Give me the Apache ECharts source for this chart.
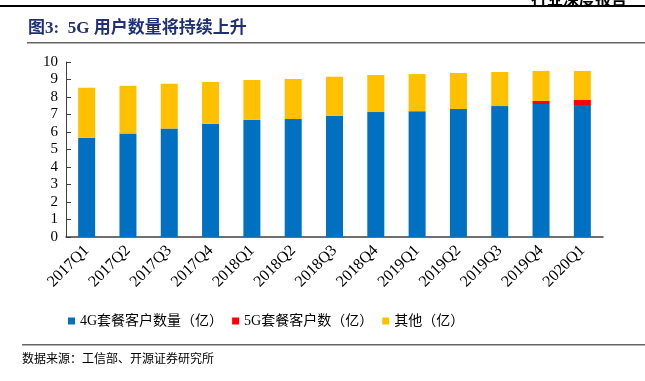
<!DOCTYPE html>
<html><head><meta charset="utf-8">
<script src="https://cdn.jsdelivr.net/npm/echarts@6/dist/echarts.min.js"></script>
<style>html,body{margin:0;padding:0;background:#fff}#c{width:645px;height:381px}</style>
</head><body><div id="c"></div>
<script>
const categories = ['2017Q1','2017Q2','2017Q3','2017Q4','2018Q1','2018Q2','2018Q3','2018Q4','2019Q1','2019Q2','2019Q3','2019Q4','2020Q1'];
const users4G = [5.67,5.92,6.20,6.47,6.70,6.74,6.93,7.14,7.19,7.31,7.48,7.60,7.54];
const users5G = [0,0,0,0,0,0,0,0,0,0,0,0.17,0.29];
const others  = [2.86,2.72,2.56,2.39,2.27,2.29,2.23,2.12,2.12,2.06,1.95,1.72,1.66];
const yTicks = [0,1,2,3,4,5,6,7,8,9,10];

const FONT = '"Liberation Serif","Noto Sans CJK SC",serif';
const chart = echarts.init(document.getElementById('c'));
chart.setOption({
  animation:false,
  backgroundColor:'#fff',
  grid:{left:66,right:42,top:62,bottom:144},
  legend:{
    top:309,left:63,itemWidth:7,itemHeight:7,itemGap:9,icon:'rect',
    textStyle:{fontFamily:FONT,fontSize:14,color:'#000'},
    data:['4G套餐客户数量（亿）','5G套餐客户数（亿）','其他（亿）']
  },
  xAxis:{
    type:'category',data:categories,
    axisLine:{lineStyle:{color:'#404040',width:1.5}},
    axisTick:{inside:true,length:5,lineStyle:{color:'#404040'}},
    axisLabel:{rotate:45,fontFamily:FONT,fontSize:16,color:'#000',margin:11}
  },
  yAxis:{
    type:'value',min:yTicks[0],max:yTicks[yTicks.length-1],interval:1,
    splitLine:{show:false},
    axisLine:{show:true,lineStyle:{color:'#404040',width:1}},
    axisTick:{show:true,inside:true,length:5,lineStyle:{color:'#404040'}},
    axisLabel:{fontFamily:FONT,fontSize:15,color:'#000',margin:8}
  },
  series:[
    {name:'4G套餐客户数量（亿）',type:'bar',stack:'a',data:users4G,barWidth:17,itemStyle:{color:'#0070C0'}},
    {name:'5G套餐客户数（亿）',type:'bar',stack:'a',data:users5G,barWidth:17,itemStyle:{color:'#FF0000'}},
    {name:'其他（亿）',type:'bar',stack:'a',data:others,barWidth:17,itemStyle:{color:'#FFC000'}}
  ],
  graphic:[
    {type:'text',right:18,top:-9,style:{text:'行业深度报告',font:'bold 16px "Noto Sans CJK SC"',fill:'#000'}},
    {type:'rect',shape:{x:0,y:5,width:645,height:2},style:{fill:'#000'}},
    {type:'text',left:28,top:20,style:{text:'图3:  5G 用户数量将持续上升',font:'bold 17px "Liberation Serif","Noto Sans CJK SC"',fill:'#1F2F78'}},
    {type:'rect',shape:{x:27,y:42,width:618,height:1.5},style:{fill:'#666'}},
    {type:'rect',shape:{x:22,y:344,width:623,height:1.5},style:{fill:'#666'}},
    {type:'text',left:22,top:352,style:{text:'数据来源：工信部、开源证券研究所',font:'12px "Noto Sans CJK SC"',fill:'#000'}}
  ]
});
</script></body></html>
